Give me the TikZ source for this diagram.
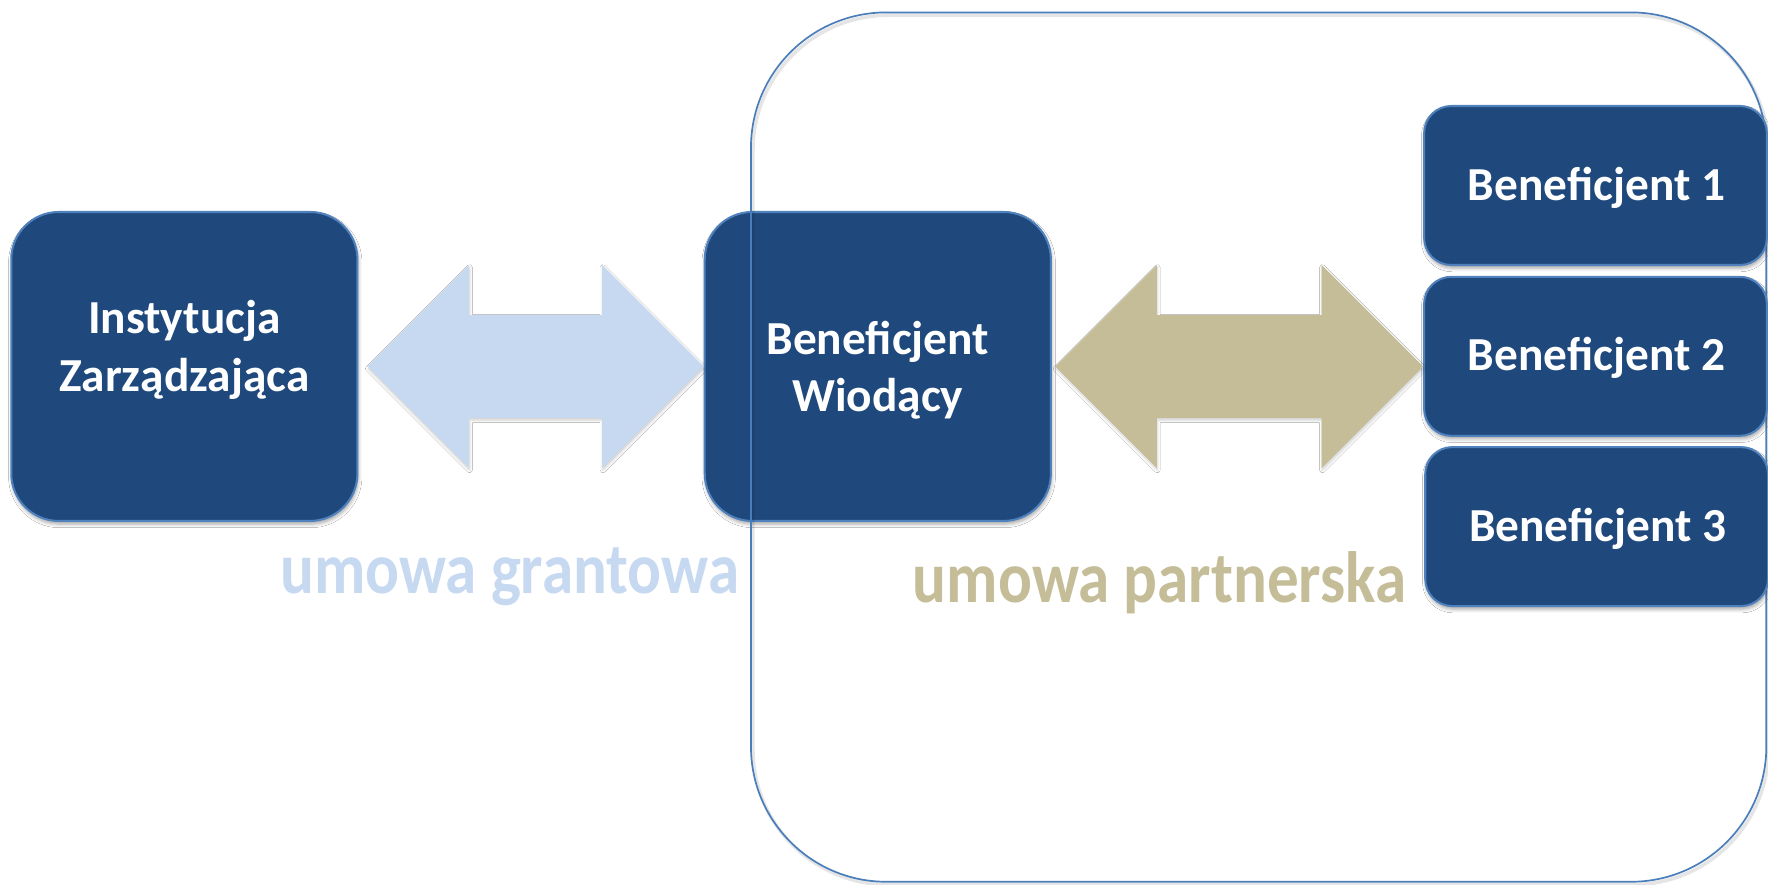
\documentclass[tikz,border=0pt]{standalone}
\usepackage{fontspec}
\setmainfont{Carlito}
\usetikzlibrary{calc,shadows.blur}

\definecolor{boxfill}{HTML}{1F497D}
\definecolor{boxedge}{HTML}{4F81BD}
\definecolor{framecol}{HTML}{4A7EBB}
\definecolor{grantcol}{HTML}{C6D9F1}
\definecolor{partnercol}{HTML}{C4BD97}

\tikzset{
  softshadow/.style={blur shadow={shadow xshift=0.4pt, shadow yshift=-1.4pt,
      shadow blur radius=1.6pt, shadow opacity=35}},
  faintshadow/.style={blur shadow={shadow xshift=0.3pt, shadow yshift=-1pt,
      shadow blur radius=1.2pt, shadow opacity=20}},
  bigbox/.style={draw=boxedge, line width=0.9pt, fill=boxfill, rounded corners=21pt,
      minimum width=153.5pt, minimum height=137pt, inner sep=0pt, softshadow},
  smallbox/.style={draw=boxedge, line width=0.9pt, fill=boxfill, rounded corners=12pt,
      minimum width=152pt, minimum height=70.5pt, inner sep=0pt, softshadow},
  groupframe/.style={draw=framecol, line width=0.75pt, rounded corners=60pt,
      minimum width=450.25pt, minimum height=385.5pt, inner sep=0pt},
  boxtext/.style={text=white, font=\bfseries\fontsize{21}{25.5}\selectfont,
      align=center, anchor=base, inner sep=0pt},
  agreement/.style={font=\bfseries\fontsize{28}{30}\selectfont, anchor=base, inner sep=0pt},
}

% double-headed block arrow between two tip coordinates
\newcommand{\blockarrow}[3]{%
  \fill[#1] (#2) -- ($(#2)+(90,-90)$) -- ($(#2)+(90,-45.5)$) -- ($(#3)+(-90,-45.5)$)
    -- ($(#3)+(-90,-90)$) -- (#3) -- ($(#3)+(-90,90)$) -- ($(#3)+(-90,45.5)$)
    -- ($(#2)+(90,45.5)$) -- ($(#2)+(90,90)$) -- cycle;}

\begin{document}
\begin{tikzpicture}[x=0.5pt, y=-0.5pt]
\useasboundingbox[fill=white] (0,0) rectangle (1568,784);

% main boxes
\node[bigbox] (iz) at (163.5,325) {};
\node[bigbox] (bw) at (778.5,325) {};

% partnership frame
\node[groupframe, draw=black, draw opacity=0.10, line width=1.6pt] (groupshade) at (1118,399) {};
\node[groupframe] (group) at (1116.25,396.5) {};

% partner boxes
\node[smallbox] (b1) at (1415,164.5) {};
\node[smallbox] (b2) at (1415,316) {};
\node[smallbox] (b3) at (1416,467) {};

% box texts (base = baseline of the last line)
\node[boxtext] (iztext) at (163.5,347) {Instytucja\\Zarządzająca};
\node[boxtext] (bwtext) at (778.5,365) {Beneficjent\\Wiodący};
\node[boxtext] (b1text) at (1416,177.5) {Beneficjent 1};
\node[boxtext] (b2text) at (1416,329) {Beneficjent 2};
\node[boxtext] (b3text) at (1417,480) {Beneficjent 3};

% connecting block arrows
\path (iz.east) ++(8,0) coordinate (g1);
\path (bw.west) coordinate (g2);
\path (bw.east) ++(3,0) coordinate (p1);
\path (b2.west |- p1) coordinate (p2);
\blockarrow{grantcol, faintshadow}{g1}{g2}
\blockarrow{partnercol, faintshadow}{p1}{p2}

% agreement labels
\node[agreement, text=grantcol] (grant) at (452,526) {\scalebox{1}[1.15]{umowa grantowa}};
\node[agreement, text=partnercol] (partner) at (1028.5,534) {\scalebox{1}[1.15]{umowa partnerska}};
\end{tikzpicture}
\end{document}
